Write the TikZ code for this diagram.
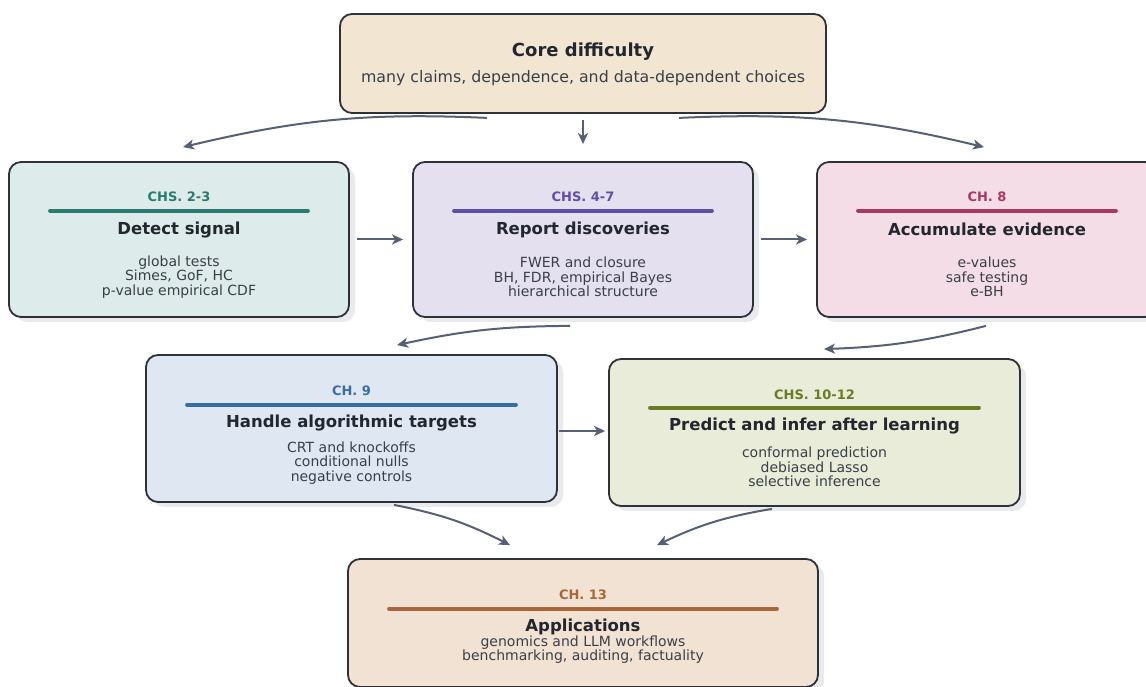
\documentclass[tikz,border=0pt]{standalone}
\usepackage{fontspec}
\setmainfont{DejaVu Sans}
\usetikzlibrary{arrows.meta}
\usetikzlibrary{shadows}
\usepackage{xcolor}

\definecolor{edge}{HTML}{2E3138}
\definecolor{arrowc}{HTML}{566075}
\definecolor{ink}{HTML}{22262E}
\definecolor{itemink}{HTML}{3A3F48}
\definecolor{shadowc}{HTML}{E9EAED}
\definecolor{corebg}{HTML}{F2E5D2}
\definecolor{tealbg}{HTML}{DDECEA}
\definecolor{tealc}{HTML}{2A7B6F}
\definecolor{purplebg}{HTML}{E4E0F0}
\definecolor{purplec}{HTML}{5E4FA8}
\definecolor{rosebg}{HTML}{F4DDE6}
\definecolor{rosec}{HTML}{A83A60}
\definecolor{bluebg}{HTML}{DFE7F3}
\definecolor{bluec}{HTML}{3A6DA3}
\definecolor{olivebg}{HTML}{E8ECD8}
\definecolor{olivec}{HTML}{6A7B25}
\definecolor{brownbg}{HTML}{F1E2D3}
\definecolor{brownc}{HTML}{A8663A}

\begin{document}
\begin{tikzpicture}[x=1pt, y=1pt,
  box/.style={draw=edge, line width=1.8pt, rounded corners=12pt, inner sep=0pt},
  shadowed/.style={drop shadow={shadow xshift=6pt, shadow yshift=-5pt, fill=shadowc, opacity=1}},
  tag/.style={font=\bfseries\fontsize{13}{15}\selectfont},
  rulebar/.style={line width=4pt, line cap=round},
  title/.style={font=\bfseries\fontsize{16.5}{19}\selectfont, text=ink},
  items/.style={font=\fontsize{14}{14.5}\selectfont, text=itemink, align=center, inner sep=0pt},
  arr/.style={draw=arrowc, line width=2pt, -{Stealth[length=11pt,width=10pt,inset=3pt]}}]
\useasboundingbox (0,0) rectangle (1146,686);
\clip (0,0) rectangle (1146,686);

% core box
\node[box, fill=corebg, minimum width=486pt, minimum height=99pt] (core) at (583,622.5) {};
\node[font=\bfseries\fontsize{18}{21}\selectfont, text=ink] (core-title) at ([yshift=-39pt]core.north) {Core difficulty};
\node[font=\fontsize{15.8}{18}\selectfont, text=itemink] (core-sub) at ([yshift=-65pt]core.north) {many claims, dependence, and data-dependent choices};

% first row
\node[box, shadowed, fill=tealbg, minimum width=340pt, minimum height=155pt] (detect) at (179,446.5) {};
\node[tag, text=tealc] (detect-tag) at ([yshift=-36pt]detect.north) {CHS. 2-3};
\draw[rulebar, tealc] ([xshift=42pt,yshift=-49.5pt]detect.north west) -- ([xshift=-42pt,yshift=-49.5pt]detect.north east);
\node[title] (detect-title) at ([yshift=-68.5pt]detect.north) {Detect signal};
\node[items] (detect-items) at ([yshift=-116pt]detect.north) {global tests\\Simes, GoF, HC\\p-value empirical CDF};

\node[box, shadowed, fill=purplebg, minimum width=340pt, minimum height=155pt] (report) at (583,446.5) {};
\node[tag, text=purplec] (report-tag) at ([yshift=-36pt]report.north) {CHS. 4-7};
\draw[rulebar, purplec] ([xshift=42pt,yshift=-49.5pt]report.north west) -- ([xshift=-42pt,yshift=-49.5pt]report.north east);
\node[title] (report-title) at ([yshift=-68.5pt]report.north) {Report discoveries};
\node[items] (report-items) at ([yshift=-116pt]report.north) {FWER and closure\\BH, FDR, empirical Bayes\\hierarchical structure};

\node[box, shadowed, fill=rosebg, minimum width=340pt, minimum height=155pt] (accum) at (987,446.5) {};
\node[tag, text=rosec] (accum-tag) at ([yshift=-36pt]accum.north) {CH. 8};
\draw[rulebar, rosec] ([xshift=42pt,yshift=-49.5pt]accum.north west) -- ([xshift=-42pt,yshift=-49.5pt]accum.north east);
\node[title] (accum-title) at ([yshift=-68.5pt]accum.north) {Accumulate evidence};
\node[items] (accum-items) at ([yshift=-116pt]accum.north) {e-values\\safe testing\\e-BH};

% second row
\node[box, shadowed, fill=bluebg, minimum width=411pt, minimum height=147pt] (handle) at (351.5,257.5) {};
\node[tag, text=bluec] (handle-tag) at ([yshift=-37pt]handle.north) {CH. 9};
\draw[rulebar, bluec] ([xshift=42pt,yshift=-50.5pt]handle.north west) -- ([xshift=-42pt,yshift=-50.5pt]handle.north east);
\node[title] (handle-title) at ([yshift=-68.5pt]handle.north) {Handle algorithmic targets};
\node[items] (handle-items) at ([yshift=-109pt]handle.north) {CRT and knockoffs\\conditional nulls\\negative controls};

\node[box, shadowed, fill=olivebg, minimum width=411pt, minimum height=147pt] (predict) at (814.5,253.5) {};
\node[tag, text=olivec] (predict-tag) at ([yshift=-37pt]predict.north) {CHS. 10-12};
\draw[rulebar, olivec] ([xshift=42pt,yshift=-49.5pt]predict.north west) -- ([xshift=-42pt,yshift=-49.5pt]predict.north east);
\node[title] (predict-title) at ([yshift=-67.5pt]predict.north) {Predict and infer after learning};
\node[items] (predict-items) at ([yshift=-109pt]predict.north) {conformal prediction\\debiased Lasso\\selective inference};

% applications
\node[box, shadowed, fill=brownbg, minimum width=470pt, minimum height=128pt] (apps) at (583,63) {};
\node[tag, text=brownc] (apps-tag) at ([yshift=-37pt]apps.north) {CH. 13};
\draw[rulebar, brownc] ([xshift=42pt,yshift=-50.5pt]apps.north west) -- ([xshift=-42pt,yshift=-50.5pt]apps.north east);
\node[title] (apps-title) at ([yshift=-68.5pt]apps.north) {Applications};
\node[items] (apps-items) at ([yshift=-91.5pt]apps.north) {genomics and LLM workflows\\benchmarking, auditing, factuality};

% connectors
\draw[arr] ([xshift=-96pt,yshift=-4pt]core.south) to[bend right=8] ([xshift=4pt,yshift=14pt]detect.north);
\draw[arr] ([yshift=-6pt]core.south) -- ([yshift=17pt]report.north);
\draw[arr] ([xshift=96pt,yshift=-4pt]core.south) to[bend left=8] ([xshift=-3pt,yshift=14pt]accum.north);
\draw[arr] ([xshift=7pt]detect.east) -- ([xshift=-9pt]report.west);
\draw[arr] ([xshift=7pt]report.east) -- ([xshift=-9pt]accum.west);
\draw[arr] ([xshift=-13pt,yshift=-8pt]report.south) to[bend right=6] ([xshift=45.5pt,yshift=9pt]handle.north);
\draw[arr] ([xshift=-1pt,yshift=-8pt]accum.south) to[bend left=6] ([xshift=9.5pt,yshift=9pt]predict.north);
\draw[arr] ([xshift=1pt,yshift=-2.5pt]handle.east) -- ([xshift=-3pt,yshift=1.5pt]predict.west);
\draw[arr] ([xshift=42.5pt,yshift=-2pt]handle.south) to[bend left=8] ([xshift=-73pt,yshift=13pt]apps.north);
\draw[arr] ([xshift=-42.5pt,yshift=-2pt]predict.south) to[bend right=8] ([xshift=74pt,yshift=13pt]apps.north);
\end{tikzpicture}
\end{document}
